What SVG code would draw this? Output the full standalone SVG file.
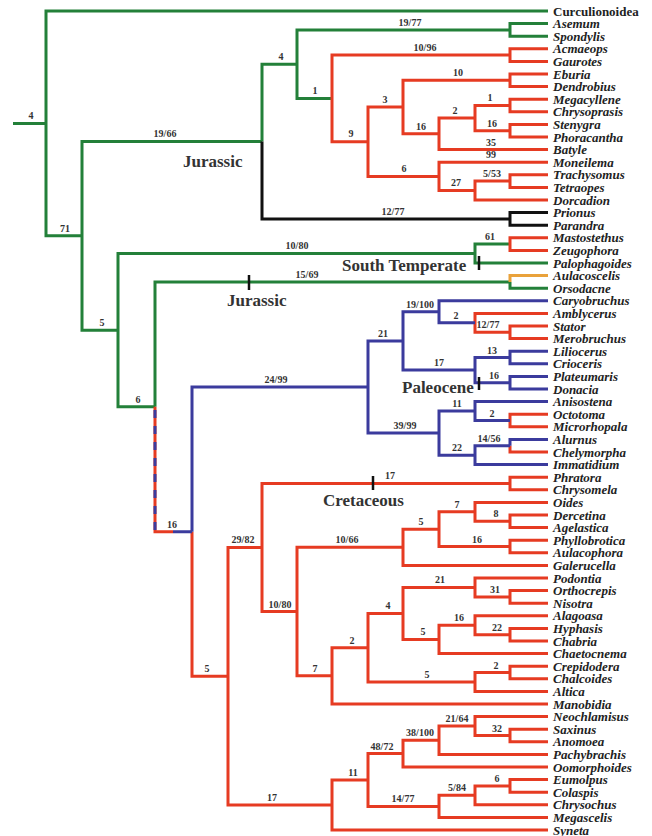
<svg xmlns="http://www.w3.org/2000/svg" width="652" height="836" viewBox="0 0 652 836">
<style>
.e{fill:none;stroke-width:3;stroke-linejoin:miter;stroke-linecap:butt}
.g{stroke:#238039}.r{stroke:#e63b22}.b{stroke:#3b3b9d}.k{stroke:#111}.o{stroke:#e9a23b}
.d{stroke-dasharray:8 8}
.tick{stroke:#111;stroke-width:2.5}
.t{font-family:"Liberation Serif","Times New Roman",serif;font-size:13px;font-weight:bold;font-style:italic;fill:#222}
.t0{font-style:normal}
.bl{font-family:"Liberation Serif","Times New Roman",serif;font-size:10px;font-weight:bold;fill:#333;text-anchor:middle}
.era{font-family:"Liberation Serif","Times New Roman",serif;font-size:17px;font-weight:bold;fill:#333}
</style>
<rect width="652" height="836" fill="#fff"/>
<g id="connectors">
<path class="e g" d="M13 123.4H46M46 123.4V11H548M46 123.4V235.85H82M82 235.85V141.5H262M82 235.85V330.2H118M262 141.5V64.2H297M297 64.2V29.9H510M297 64.2V98.4H332M510 29.9V23.6H548M510 29.9V36.2H548M118 330.2V253.55H475M118 330.2V406.8H155M475 253.55V244.1H510M475 253.55V263H548M155 406.8V281.9H510M510 281.9V288.2H548"/>
<path class="e k" d="M262 141.5V218.9H510M510 218.9V212.6H548M510 218.9V225.2H548"/>
<path class="e o" d="M510 281.9V275.6H548"/>
<path class="e r" d="M332 98.4V55.1H510M510 55.1V48.8H548M510 55.1V61.4H548M332 98.4V141.7H368M368 141.7V107.1H403M368 141.7V176.4H439M403 107.1V80.3H510M510 80.3V74H548M510 80.3V86.6H548M403 107.1V133.85H439M439 133.85V118.1H475M439 133.85V149.6H548M475 118.1V105.5H510M510 105.5V99.2H548M510 105.5V111.8H548M475 118.1V130.7H510M510 130.7V124.4H548M510 130.7V137H548M439 176.4V162.2H548M439 176.4V190.55H475M475 190.55V181.1H510M510 181.1V174.8H548M510 181.1V187.4H548M475 190.55V200H548M510 244.1V237.8H548M510 244.1V250.4H548M475 322.85V313.4H548M475 322.85V332.3H510M510 332.3V326H548M510 332.3V338.6H548M510 420.5V414.2H548M510 420.5V426.8H548M510 445.7V452H548M155 406.8V531.7H173M192 531.7V676.3H228M228 676.3V547.55H262M228 676.3V805H332M262 547.55V483.5H510M510 483.5V477.2H548M510 483.5V489.8H548M262 547.55V611.6H297M297 611.6V547.3H403M297 611.6V675.85H332M403 547.3V529.2H439M403 547.3V565.4H548M439 529.2V511.85H475M439 529.2V546.5H510M475 511.85V502.4H548M475 511.85V521.3H510M510 521.3V515H548M510 521.3V527.6H548M510 546.5V540.2H548M510 546.5V552.8H548M332 675.85V647.7H368M332 675.85V704H548M368 647.7V613.4H403M368 647.7V681.95H475M403 613.4V587.45H475M403 613.4V639.4H439M475 587.45V578H548M475 587.45V596.9H510M510 596.9V590.6H548M510 596.9V603.2H548M439 639.4V625.25H475M439 639.4V653.6H548M475 625.25V615.8H548M475 625.25V634.7H510M510 634.7V628.4H548M510 634.7V641H548M475 681.95V672.5H510M510 672.5V666.2H548M510 672.5V678.8H548M475 681.95V691.4H548M332 805V780H368M332 805V830H548M368 780V753.6H403M368 780V806.4H439M403 753.6V740.2H439M403 753.6V767H548M439 740.2V726.05H475M439 740.2V754.4H548M475 726.05V716.6H548M475 726.05V735.5H510M510 735.5V729.2H548M510 735.5V741.8H548M439 806.4V795.35H475M439 806.4V817.4H548M475 795.35V785.9H510M510 785.9V779.6H548M510 785.9V792.2H548M475 795.35V804.8H548"/>
<path class="e b d" d="M155 410V531.7"/>
<path class="e b" d="M173 531.7H192M192 531.7V387.05H368M368 387.05V341H403M368 387.05V433.1H439M403 341V311.8H439M403 341V370.1H475M439 311.8V300.8H548M439 311.8V322.85H475M475 370.1V357.5H510M475 370.1V382.7H510M510 357.5V351.2H548M510 357.5V363.8H548M510 382.7V376.4H548M510 382.7V389H548M439 433.1V411.05H475M439 433.1V455.15H475M475 411.05V401.6H548M475 411.05V420.5H510M475 455.15V445.7H510M475 455.15V464.6H548M510 445.7V439.4H548"/>
<path class="tick" d="M249 275V290M479 256V270M479 377V390M373 476V490"/>
</g>
<g id="branch-labels">
<text class="bl" x="31" y="119">4</text>
<text class="bl" x="65" y="232">71</text>
<text class="bl" x="165" y="137">19/66</text>
<text class="bl" x="281" y="60">4</text>
<text class="bl" x="315" y="94">1</text>
<text class="bl" x="410" y="26">19/77</text>
<text class="bl" x="425" y="51">10/96</text>
<text class="bl" x="458" y="76">10</text>
<text class="bl" x="385" y="103">3</text>
<text class="bl" x="351" y="137">9</text>
<text class="bl" x="421" y="130">16</text>
<text class="bl" x="455" y="114">2</text>
<text class="bl" x="490" y="101">1</text>
<text class="bl" x="492" y="127">16</text>
<text class="bl" x="491" y="146">35</text>
<text class="bl" x="491" y="158">99</text>
<text class="bl" x="404" y="172">6</text>
<text class="bl" x="456" y="186">27</text>
<text class="bl" x="492" y="177">5/53</text>
<text class="bl" x="393" y="215">12/77</text>
<text class="bl" x="297" y="249">10/80</text>
<text class="bl" x="490" y="240">61</text>
<text class="bl" x="307" y="278">15/69</text>
<text class="bl" x="102" y="326">5</text>
<text class="bl" x="138" y="403">6</text>
<text class="bl" x="172" y="528">16</text>
<text class="bl" x="276" y="383">24/99</text>
<text class="bl" x="383" y="337">21</text>
<text class="bl" x="420" y="308">19/100</text>
<text class="bl" x="456" y="319">2</text>
<text class="bl" x="488" y="328">12/77</text>
<text class="bl" x="439" y="366">17</text>
<text class="bl" x="492" y="354">13</text>
<text class="bl" x="494" y="379">16</text>
<text class="bl" x="405" y="429">39/99</text>
<text class="bl" x="457" y="407">11</text>
<text class="bl" x="492" y="417">2</text>
<text class="bl" x="457" y="451">22</text>
<text class="bl" x="489" y="442">14/56</text>
<text class="bl" x="390" y="479">17</text>
<text class="bl" x="243" y="543">29/82</text>
<text class="bl" x="280" y="608">10/80</text>
<text class="bl" x="347" y="543">10/66</text>
<text class="bl" x="421" y="525">5</text>
<text class="bl" x="457" y="508">7</text>
<text class="bl" x="496" y="517">8</text>
<text class="bl" x="477" y="543">16</text>
<text class="bl" x="207" y="672">5</text>
<text class="bl" x="315" y="672">7</text>
<text class="bl" x="352" y="644">2</text>
<text class="bl" x="388" y="609">4</text>
<text class="bl" x="440" y="583">21</text>
<text class="bl" x="495" y="593">31</text>
<text class="bl" x="423" y="635">5</text>
<text class="bl" x="459" y="621">16</text>
<text class="bl" x="497" y="631">22</text>
<text class="bl" x="427" y="678">5</text>
<text class="bl" x="496" y="669">2</text>
<text class="bl" x="272" y="801">17</text>
<text class="bl" x="353" y="776">11</text>
<text class="bl" x="382" y="750">48/72</text>
<text class="bl" x="420" y="736">38/100</text>
<text class="bl" x="457" y="722">21/64</text>
<text class="bl" x="497" y="732">32</text>
<text class="bl" x="403" y="802">14/77</text>
<text class="bl" x="457" y="791">5/84</text>
<text class="bl" x="497" y="782">6</text>
</g>
<g id="era-jurassic-1"><text class="era" x="183" y="167">Jurassic</text></g>
<g id="era-jurassic-2"><text class="era" x="227" y="306">Jurassic</text></g>
<g id="era-south-temperate"><text class="era" x="342" y="271">South Temperate</text></g>
<g id="era-paleocene"><text class="era" x="402" y="393">Paleocene</text></g>
<g id="era-cretaceous"><text class="era" x="323" y="506">Cretaceous</text></g>
<g id="taxa">
<g id="Curculionoidea"><text class="t t0" x="553" y="15.5">Curculionoidea</text></g>
<g id="Asemum"><text class="t" x="553" y="28.1">Asemum</text></g>
<g id="Spondylis"><text class="t" x="553" y="40.7">Spondylis</text></g>
<g id="Acmaeops"><text class="t" x="553" y="53.3">Acmaeops</text></g>
<g id="Gaurotes"><text class="t" x="553" y="65.9">Gaurotes</text></g>
<g id="Eburia"><text class="t" x="553" y="78.5">Eburia</text></g>
<g id="Dendrobius"><text class="t" x="553" y="91.1">Dendrobius</text></g>
<g id="Megacyllene"><text class="t" x="553" y="103.7">Megacyllene</text></g>
<g id="Chrysoprasis"><text class="t" x="553" y="116.3">Chrysoprasis</text></g>
<g id="Stenygra"><text class="t" x="553" y="128.9">Stenygra</text></g>
<g id="Phoracantha"><text class="t" x="553" y="141.5">Phoracantha</text></g>
<g id="Batyle"><text class="t" x="553" y="154.1">Batyle</text></g>
<g id="Moneilema"><text class="t" x="553" y="166.7">Moneilema</text></g>
<g id="Trachysomus"><text class="t" x="553" y="179.3">Trachysomus</text></g>
<g id="Tetraopes"><text class="t" x="553" y="191.9">Tetraopes</text></g>
<g id="Dorcadion"><text class="t" x="553" y="204.5">Dorcadion</text></g>
<g id="Prionus"><text class="t" x="553" y="217.1">Prionus</text></g>
<g id="Parandra"><text class="t" x="553" y="229.7">Parandra</text></g>
<g id="Mastostethus"><text class="t" x="553" y="242.3">Mastostethus</text></g>
<g id="Zeugophora"><text class="t" x="553" y="254.9">Zeugophora</text></g>
<g id="Palophagoides"><text class="t" x="553" y="267.5">Palophagoides</text></g>
<g id="Aulacoscelis"><text class="t" x="553" y="280.1">Aulacoscelis</text></g>
<g id="Orsodacne"><text class="t" x="553" y="292.7">Orsodacne</text></g>
<g id="Caryobruchus"><text class="t" x="553" y="305.3">Caryobruchus</text></g>
<g id="Amblycerus"><text class="t" x="553" y="317.9">Amblycerus</text></g>
<g id="Stator"><text class="t" x="553" y="330.5">Stator</text></g>
<g id="Merobruchus"><text class="t" x="553" y="343.1">Merobruchus</text></g>
<g id="Liliocerus"><text class="t" x="553" y="355.7">Liliocerus</text></g>
<g id="Crioceris"><text class="t" x="553" y="368.3">Crioceris</text></g>
<g id="Plateumaris"><text class="t" x="553" y="380.9">Plateumaris</text></g>
<g id="Donacia"><text class="t" x="553" y="393.5">Donacia</text></g>
<g id="Anisostena"><text class="t" x="553" y="406.1">Anisostena</text></g>
<g id="Octotoma"><text class="t" x="553" y="418.7">Octotoma</text></g>
<g id="Microrhopala"><text class="t" x="553" y="431.3">Microrhopala</text></g>
<g id="Alurnus"><text class="t" x="553" y="443.9">Alurnus</text></g>
<g id="Chelymorpha"><text class="t" x="553" y="456.5">Chelymorpha</text></g>
<g id="Immatidium"><text class="t" x="553" y="469.1">Immatidium</text></g>
<g id="Phratora"><text class="t" x="553" y="481.7">Phratora</text></g>
<g id="Chrysomela"><text class="t" x="553" y="494.3">Chrysomela</text></g>
<g id="Oides"><text class="t" x="553" y="506.9">Oides</text></g>
<g id="Dercetina"><text class="t" x="553" y="519.5">Dercetina</text></g>
<g id="Agelastica"><text class="t" x="553" y="532.1">Agelastica</text></g>
<g id="Phyllobrotica"><text class="t" x="553" y="544.7">Phyllobrotica</text></g>
<g id="Aulacophora"><text class="t" x="553" y="557.3">Aulacophora</text></g>
<g id="Galerucella"><text class="t" x="553" y="569.9">Galerucella</text></g>
<g id="Podontia"><text class="t" x="553" y="582.5">Podontia</text></g>
<g id="Orthocrepis"><text class="t" x="553" y="595.1">Orthocrepis</text></g>
<g id="Nisotra"><text class="t" x="553" y="607.7">Nisotra</text></g>
<g id="Alagoasa"><text class="t" x="553" y="620.3">Alagoasa</text></g>
<g id="Hyphasis"><text class="t" x="553" y="632.9">Hyphasis</text></g>
<g id="Chabria"><text class="t" x="553" y="645.5">Chabria</text></g>
<g id="Chaetocnema"><text class="t" x="553" y="658.1">Chaetocnema</text></g>
<g id="Crepidodera"><text class="t" x="553" y="670.7">Crepidodera</text></g>
<g id="Chalcoides"><text class="t" x="553" y="683.3">Chalcoides</text></g>
<g id="Altica"><text class="t" x="553" y="695.9">Altica</text></g>
<g id="Manobidia"><text class="t" x="553" y="708.5">Manobidia</text></g>
<g id="Neochlamisus"><text class="t" x="553" y="721.1">Neochlamisus</text></g>
<g id="Saxinus"><text class="t" x="553" y="733.7">Saxinus</text></g>
<g id="Anomoea"><text class="t" x="553" y="746.3">Anomoea</text></g>
<g id="Pachybrachis"><text class="t" x="553" y="758.9">Pachybrachis</text></g>
<g id="Oomorphoides"><text class="t" x="553" y="771.5">Oomorphoides</text></g>
<g id="Eumolpus"><text class="t" x="553" y="784.1">Eumolpus</text></g>
<g id="Colaspis"><text class="t" x="553" y="796.7">Colaspis</text></g>
<g id="Chrysochus"><text class="t" x="553" y="809.3">Chrysochus</text></g>
<g id="Megascelis"><text class="t" x="553" y="821.9">Megascelis</text></g>
<g id="Syneta"><text class="t" x="553" y="834.5">Syneta</text></g>
</g>
</svg>
